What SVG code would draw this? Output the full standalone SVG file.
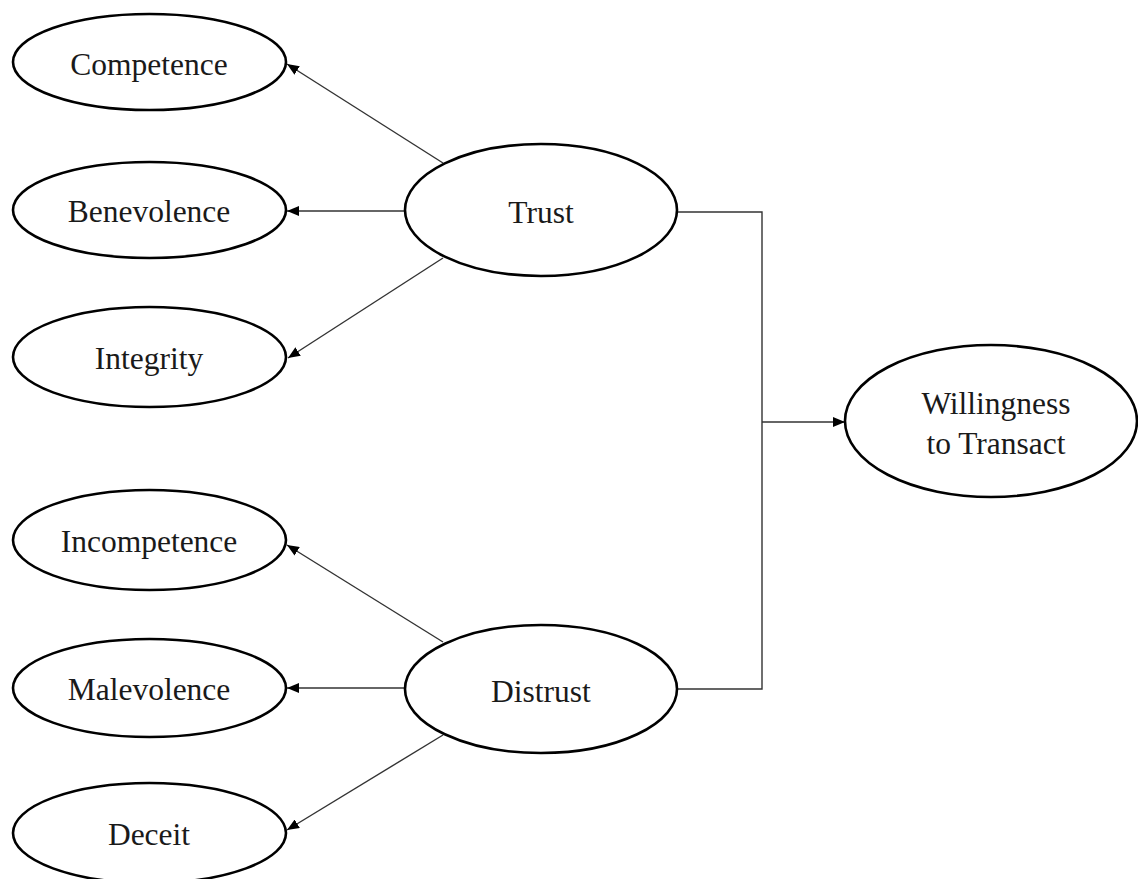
<svg xmlns="http://www.w3.org/2000/svg" width="1138" height="879" viewBox="0 0 1138 879">
<style>
.node ellipse{fill:#fff;stroke:#000;stroke-width:2.6}
.node text{font-family:"Liberation Serif","Times New Roman",serif;font-size:31.5px;fill:#1a1a1a;text-anchor:middle}
.conn line,.conn polyline{stroke:#333;stroke-width:1.4;fill:none}
</style>
<defs>
<marker id="ah" viewBox="0 0 12 10" refX="12" refY="5" markerWidth="12" markerHeight="10" markerUnits="userSpaceOnUse" orient="auto">
<path d="M0,0 L12,5 L0,10 z" fill="#000"/>
</marker>
</defs>
<rect width="1138" height="879" fill="#fff"/>
<g id="connectors" class="conn">
<line x1="443" y1="163" x2="287" y2="64" marker-end="url(#ah)"/>
<line x1="405" y1="211" x2="287" y2="211" marker-end="url(#ah)"/>
<line x1="443" y1="258" x2="288" y2="358" marker-end="url(#ah)"/>
<line x1="443" y1="642" x2="287" y2="545" marker-end="url(#ah)"/>
<line x1="405" y1="688" x2="287" y2="688" marker-end="url(#ah)"/>
<line x1="443" y1="735" x2="287" y2="830" marker-end="url(#ah)"/>
<polyline points="677,212 762,212 762,689 677,689"/>
<line x1="762" y1="422" x2="845" y2="422" stroke-width="1.8" marker-end="url(#ah)"/>
</g>
<g id="competence" class="node"><ellipse cx="149.5" cy="62" rx="136.5" ry="48"/><text x="149" y="75">Competence</text></g>
<g id="benevolence" class="node"><ellipse cx="149.5" cy="210" rx="136.5" ry="48"/><text x="149" y="222">Benevolence</text></g>
<g id="integrity" class="node"><ellipse cx="149.5" cy="357" rx="136.5" ry="50"/><text x="149" y="369">Integrity</text></g>
<g id="incompetence" class="node"><ellipse cx="149.5" cy="540" rx="136.5" ry="50"/><text x="149" y="552">Incompetence</text></g>
<g id="malevolence" class="node"><ellipse cx="149.5" cy="688" rx="136.5" ry="49"/><text x="149" y="700">Malevolence</text></g>
<g id="deceit" class="node"><ellipse cx="149.5" cy="833" rx="136.5" ry="50"/><text x="149" y="845">Deceit</text></g>
<g id="trust" class="node"><ellipse cx="541" cy="210" rx="136" ry="66"/><text x="541" y="223">Trust</text></g>
<g id="distrust" class="node"><ellipse cx="541" cy="689" rx="136" ry="64"/><text x="541" y="702">Distrust</text></g>
<g id="willingness" class="node"><ellipse cx="991" cy="421" rx="146" ry="76"/><text x="996" y="414">Willingness</text><text x="996" y="454">to Transact</text></g>
</svg>
